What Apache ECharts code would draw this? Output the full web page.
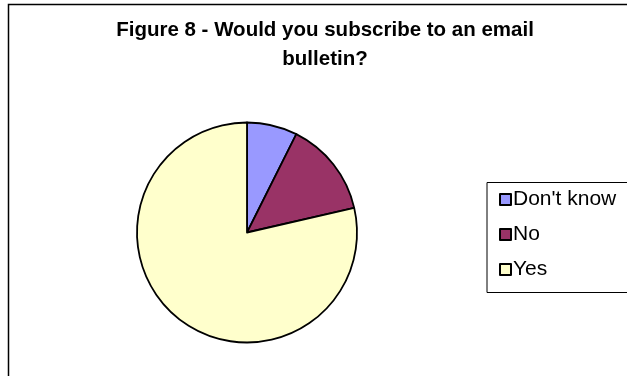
<!DOCTYPE html>
<html>
<head>
<meta charset="utf-8">
<script src="https://cdn.jsdelivr.net/npm/echarts@6/dist/echarts.min.js"></script>
<style>
  html, body { margin: 0; padding: 0; background: #fff; }
  #chart { width: 627px; height: 376px; }
</style>
</head>
<body>
<div id="chart"></div>
<script>
// Survey answers: share of respondents (%)
const categories = ["Don't know", "No", "Yes"];
const shares = [7.4, 14.0, 78.6];
const sliceColors = ['#9999FF', '#993366', '#FFFFCC'];
const titleText = 'Figure 8 - Would you subscribe to an email\nbulletin?';

const chart = echarts.init(document.getElementById('chart'), null, { renderer: 'canvas' });

const FONT = '"Liberation Sans", Arial, sans-serif';

chart.setOption({
  animation: false,
  backgroundColor: '#ffffff',
  title: {
    text: titleText,
    left: 320,
    top: 11,
    textAlign: 'center',
    textStyle: {
      fontFamily: FONT,
      fontWeight: 'bold',
      fontSize: 20.5,
      lineHeight: 29,
      color: '#000'
    }
  },
  legend: {
    orient: 'vertical',
    left: 499,
    top: 189,
    padding: 0,
    itemGap: 14,
    itemWidth: 11,
    itemHeight: 11,
    icon: 'rect',
    selectedMode: false,
    textStyle: {
      fontFamily: FONT,
      fontSize: 21,
      color: '#000',
      padding: [0, 0, 0, -3]
    },
    itemStyle: { borderColor: '#000', borderWidth: 2 },
    data: categories
  },
  graphic: [
    {
      type: 'rect',
      shape: { x: 8.5, y: 4.5, width: 700, height: 500 },
      style: { fill: 'none', stroke: '#000', lineWidth: 1.5 },
      silent: true, z: -1
    },
    {
      type: 'rect',
      shape: { x: 487, y: 182.5, width: 145, height: 110 },
      style: { fill: 'none', stroke: '#000', lineWidth: 1 },
      silent: true
    }
  ],
  series: [{
    type: 'pie',
    center: [247, 232.5],
    radius: 110,
    startAngle: 90,
    clockwise: true,
    label: { show: false },
    labelLine: { show: false },
    emphasis: { disabled: true },
    itemStyle: { borderColor: '#000', borderWidth: 1.8 },
    data: categories.map((name, i) => ({
      name,
      value: shares[i],
      itemStyle: { color: sliceColors[i] }
    }))
  }]
});
</script>
</body>
</html>
